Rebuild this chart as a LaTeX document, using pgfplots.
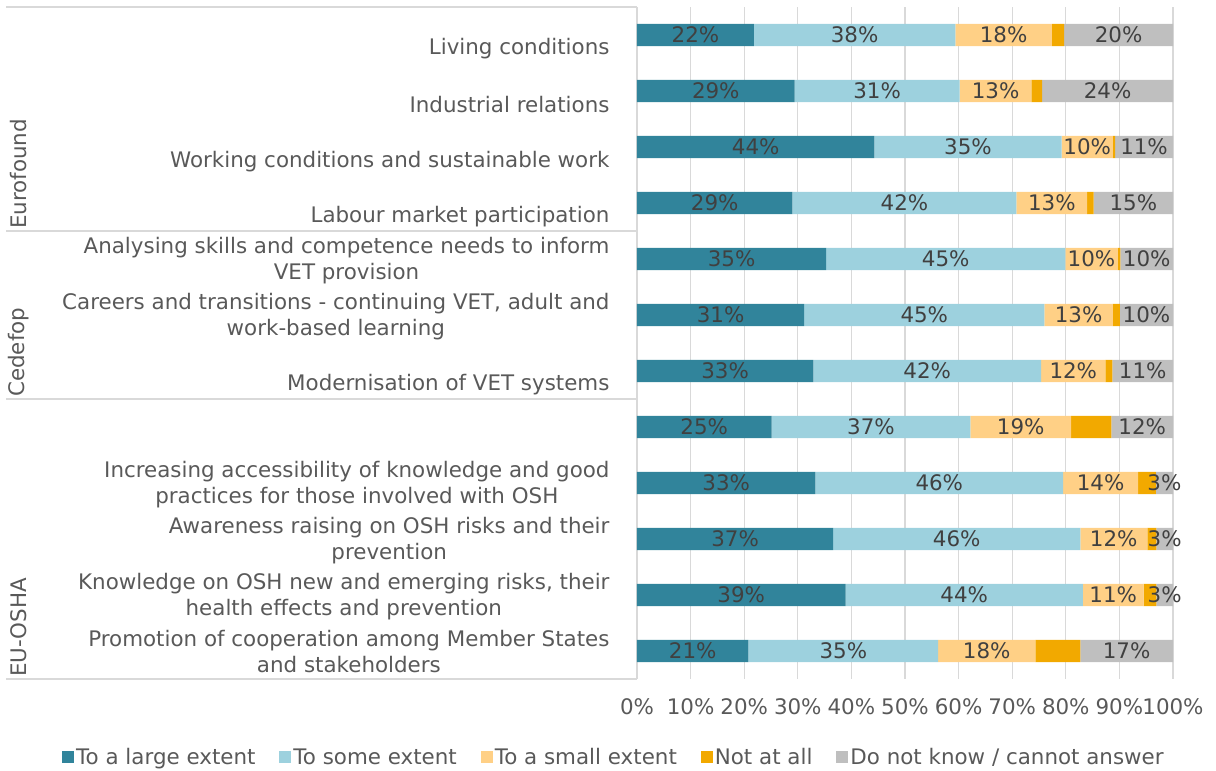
\documentclass[border=0pt]{standalone}
\usepackage{fontspec}
\setmainfont{DejaVu Sans}
\usepackage{pgfplots}
\pgfplotsset{compat=1.18}
\usepackage{pgfplotstable}

\definecolor{cA}{HTML}{31849B}
\definecolor{cB}{HTML}{9DD1DE}
\definecolor{cC}{HTML}{FFD086}
\definecolor{cD}{HTML}{F2A900}
\definecolor{cE}{HTML}{BFBFBF}
\definecolor{gridc}{HTML}{D9D9D9}
\definecolor{txt}{HTML}{595959}
\definecolor{vtxt}{HTML}{404040}

% To a large extent
\pgfplotstableread{
y v lbl
1 21.8 22
2 29.4 29
3 44.3 44
4 29.0 29
5 35.3 35
6 31.2 31
7 32.9 33
8 25.1 25
9 33.3 33
10 36.6 37
11 38.9 39
12 20.8 21
}\tA
% To some extent
\pgfplotstableread{
y v lbl
1 37.6 38
2 30.8 31
3 34.9 35
4 41.8 42
5 44.6 45
6 44.8 45
7 42.5 42
8 37.1 37
9 46.2 46
10 46.1 46
11 44.3 44
12 35.4 35
}\tB
% To a small extent
\pgfplotstableread{
y v lbl
1 18.0 18
2 13.4 13
3 9.6 10
4 13.2 13
5 9.8 10
6 12.8 13
7 12.0 12
8 18.8 19
9 14.0 14
10 12.5 12
11 11.3 11
12 18.1 18
}\tC
% Not at all
\pgfplotstableread{
y v
1 2.3
2 2.0
3 0.4
4 1.2
5 0.5
6 1.3
7 1.3
8 7.5
9 3.3
10 1.7
11 2.4
12 8.4
}\tD
% Do not know / cannot answer
\pgfplotstableread{
y v lbl
1 20.3 20
2 24.4 24
3 10.8 11
4 14.8 15
5 9.8 10
6 9.9 10
7 11.3 11
8 11.5 12
9 3.2 3
10 3.1 3
11 3.1 3
12 17.3 17
}\tE

\newcommand{\lblfont}{\fontsize{21.4}{26}\selectfont}

\begin{document}
\begin{tikzpicture}
\path[use as bounding box] (0,0) rectangle (1216pt,771pt);
\begin{axis}[
  at={(637pt,92pt)}, anchor=south west,
  scale only axis, width=536pt, height=672pt,
  xbar stacked, bar width=22.4pt,
  xmin=0, xmax=100, ymin=0.5, ymax=12.5, y dir=reverse,
  clip=false,
  axis line style={draw=none},
  major tick length=0,
  xtick={0,10,20,30,40,50,60,70,80,90,100},
  xticklabels={0\%,10\%,20\%,30\%,40\%,50\%,60\%,70\%,80\%,90\%,100\%},
  /pgf/number format/assume math mode=true,
  xmajorgrids, grid style={gridc, line width=1.2pt},
  ytick={1.25,2.25,3.26,4.24,5.02,6.02,7.24,9.02,10.02,11.02,12.01},
  yticklabels={
    Living conditions,
    Industrial relations,
    Working conditions and sustainable work,
    Labour market participation,
    {Analysing skills and competence needs to inform\\VET provision},
    {Careers and transitions - continuing VET, adult and\\work-based learning},
    Modernisation of VET systems,
    {Increasing accessibility of knowledge and good\\practices for those involved with OSH},
    {Awareness raising on OSH risks and their\\prevention},
    {Knowledge on OSH new and emerging risks, their\\health effects and prevention},
    {Promotion of cooperation among Member States\\and stakeholders}},
  tick label style={font=\lblfont, text=txt},
  yticklabel style={align=center, xshift=-24pt},
  xticklabel style={yshift=-16pt},
  legend style={at={(-0.043,-0.116)}, anchor=center, draw=none, fill=none,
    font=\lblfont, text=txt, legend columns=-1,
    /tikz/every even column/.append style={column sep=22pt}},
  legsq/.style={legend image code/.code={\fill[##1] (0pt,-6pt) rectangle (12pt,6pt);}},
  lab/.style={nodes near coords={\pgfplotspointmeta\%}, point meta=explicit symbolic,
    nodes near coords style={font=\lblfont, text=vtxt, inner sep=0pt},
    every node near coord/.append style={anchor=center}},
]
\addplot[fill=cA, draw=none, legsq, lab] table[x=v, y=y, meta=lbl]{\tA};
\addplot[fill=cB, draw=none, legsq, lab] table[x=v, y=y, meta=lbl]{\tB};
\addplot[fill=cC, draw=none, legsq, lab] table[x=v, y=y, meta=lbl]{\tC};
\addplot[fill=cD, draw=none, legsq] table[x=v, y=y]{\tD};
\addplot[fill=cE, draw=none, legsq, lab] table[x=v, y=y, meta=lbl]{\tE};
\legend{To a large extent, To some extent, To a small extent, Not at all, Do not know / cannot answer}

\draw[gridc, line width=1.2pt] (axis cs:0,0.5) -- ++(-631pt,0pt);
\draw[gridc, line width=1.2pt] (axis cs:0,4.5) -- ++(-631pt,0pt);
\draw[gridc, line width=1.2pt] (axis cs:0,7.5) -- ++(-631pt,0pt);
\draw[gridc, line width=1.2pt] (axis cs:0,12.5) -- ++(-631pt,0pt);
\node[rotate=90, anchor=west, inner sep=2pt, font=\lblfont, text=txt] at ([xshift=-618.5pt]axis cs:0,4.5) {Eurofound};
\node[rotate=90, anchor=west, inner sep=2pt, font=\lblfont, text=txt] at ([xshift=-618.5pt]axis cs:0,7.5) {Cedefop};
\node[rotate=90, anchor=west, inner sep=2pt, font=\lblfont, text=txt] at ([xshift=-618.5pt]axis cs:0,12.5) {EU-OSHA};
\end{axis}
\end{tikzpicture}
\end{document}
